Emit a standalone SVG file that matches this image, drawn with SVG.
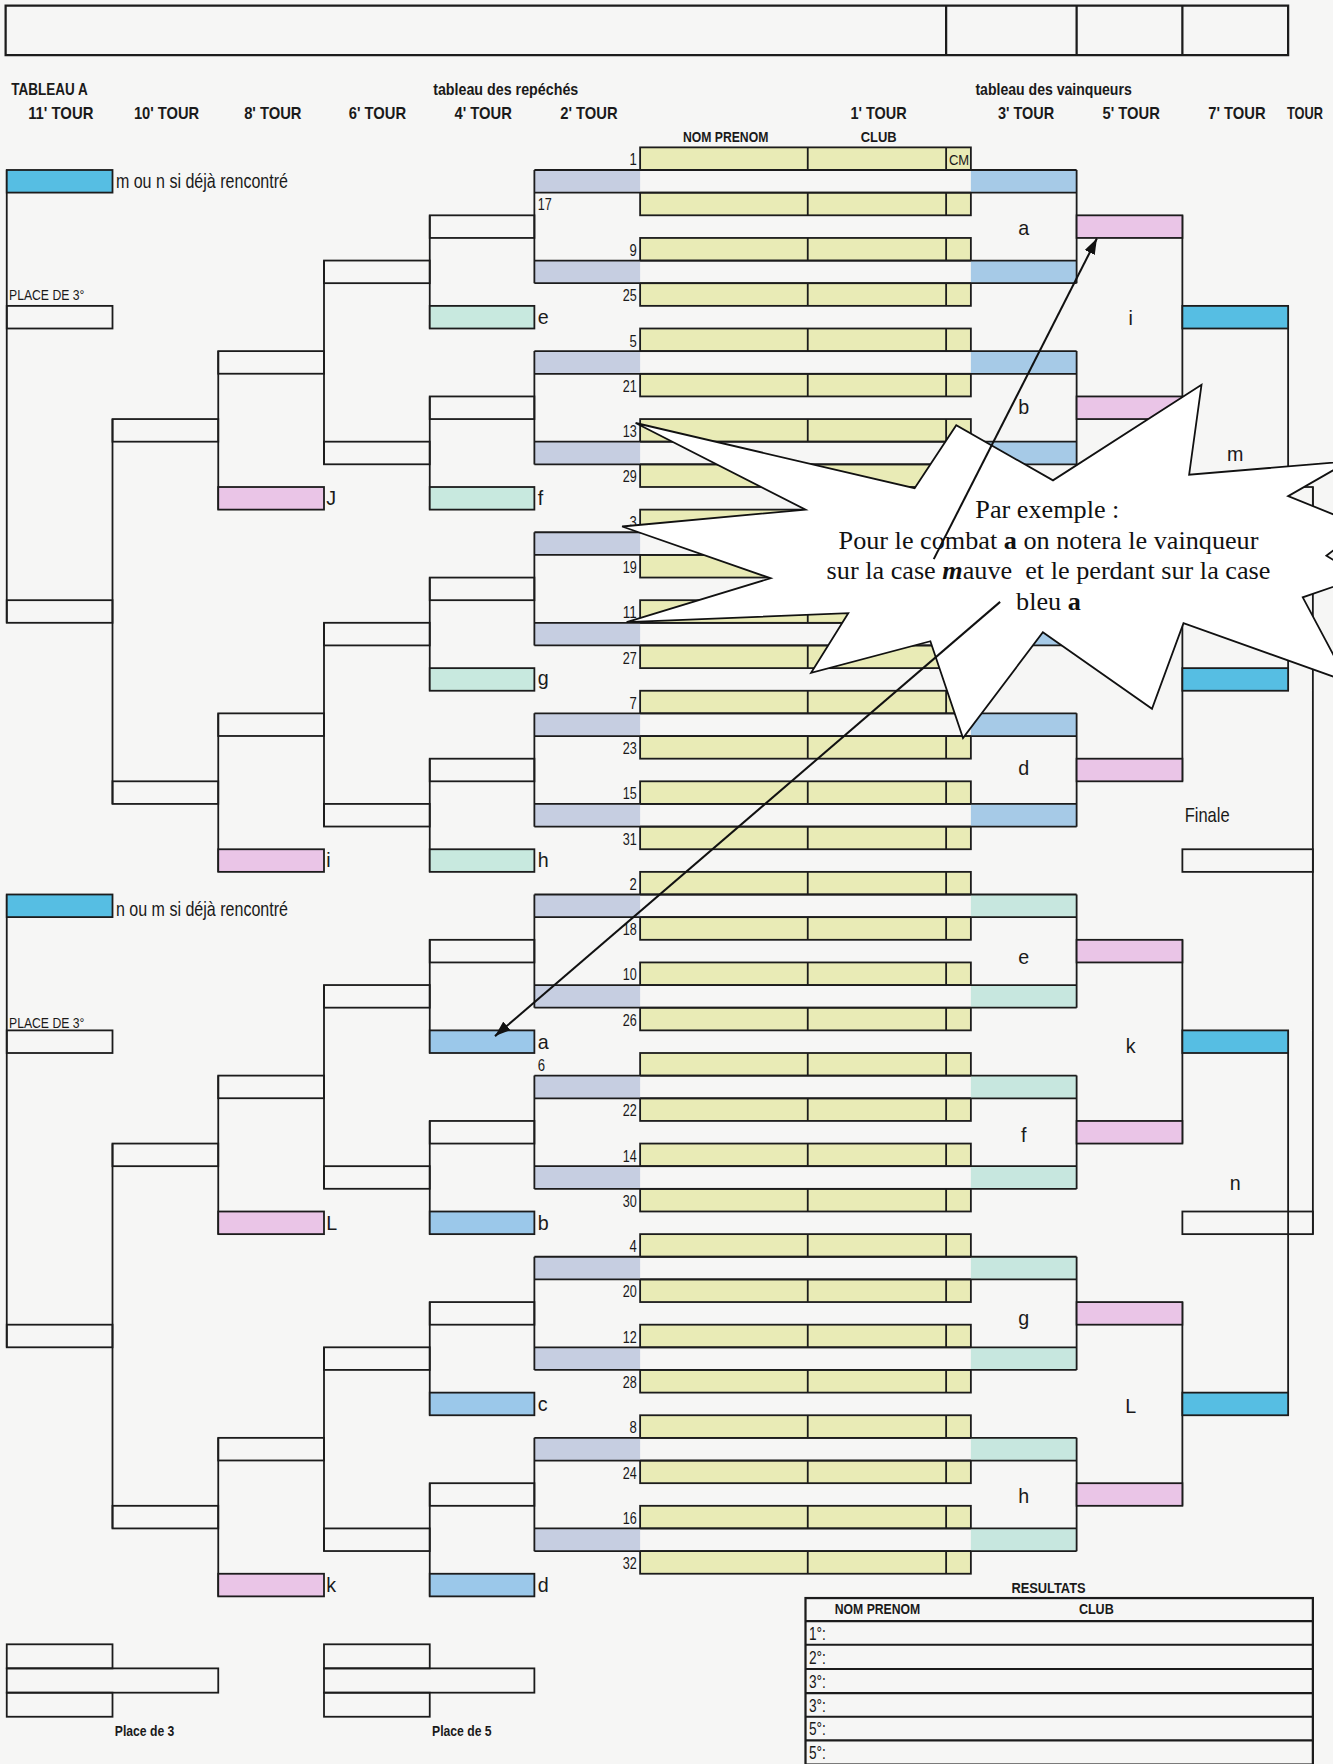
<svg xmlns="http://www.w3.org/2000/svg" xmlns:xlink="http://www.w3.org/1999/xlink" width="1333" height="1764" viewBox="0 0 1333 1764">
<defs>
<style>
.ln{fill:none;stroke:#1c1c1c;stroke-width:1.6}
.bx{fill:none;stroke:#1c1c1c;stroke-width:1.6}
.yl{fill:#e9ebb6;stroke:#1c1c1c;stroke-width:1.6}
.gr{fill:#c6cee1}
.b3{fill:#a6cae7}
.t3{fill:#c7e7df}
.pk{fill:#eac5e7;stroke:#1c1c1c;stroke-width:1.6}
.cy{fill:#56bee3;stroke:#1c1c1c;stroke-width:1.6}
.lb{fill:#9bc8ea;stroke:#1c1c1c;stroke-width:1.6}
.lt{fill:#c8e9df;stroke:#1c1c1c;stroke-width:1.6}
.sans{font-family:'Liberation Sans',Arial,sans-serif;fill:#1a1a1a}
.hd{font-weight:bold;font-size:15px}
.sh{font-weight:bold;font-size:13px}
.num{font-size:15px;text-anchor:end}
.numl{font-size:15px}
.let{font-size:17.5px}
.mid{text-anchor:middle}
.lab{font-size:17.5px}
.pl{font-size:13.5px}
.res{font-size:16px}
.star{font-family:'Liberation Serif','Times New Roman',serif;font-size:23.3px;fill:#111;text-anchor:middle}
</style>
<marker id="ah" viewBox="0 0 14 10" refX="14" refY="5" markerWidth="14" markerHeight="10" orient="auto" markerUnits="userSpaceOnUse"><path d="M0,0 L14,5 L0,10 z" fill="#111"/></marker>
<g id="pb">
<rect class="yl" x="569" y="0" width="294" height="20.125"/>
<rect class="yl" x="569" y="40.25" width="294" height="20.125"/>
<rect class="gr" x="475" y="20.125" width="94" height="20.125"/>
<rect class="b3" x="863" y="20.125" width="94" height="20.125"/>
<path class="ln" d="M475,20.125H957M475,40.25H957M718,0V20.125M841,0V20.125M718,40.25V60.375M841,40.25V60.375"/>
</g>
<g id="pt">
<rect class="yl" x="569" y="0" width="294" height="20.125"/>
<rect class="yl" x="569" y="40.25" width="294" height="20.125"/>
<rect class="gr" x="475" y="20.125" width="94" height="20.125"/>
<rect class="t3" x="863" y="20.125" width="94" height="20.125"/>
<path class="ln" d="M475,20.125H957M475,40.25H957M718,0V20.125M841,0V20.125M718,40.25V60.375M841,40.25V60.375"/>
</g>
</defs>
<rect x="0" y="0" width="1333" height="1764" fill="#f6f6f5"/>
<g transform="scale(1.125)">

<g id="header">
<rect class="bx" x="5" y="5" width="1140" height="44" style="stroke-width:2"/>
<path class="ln" d="M841,5V49M957,5V49M1051,5V49" style="stroke-width:2"/>
<text class="sans hd" x="10" y="84" textLength="68" lengthAdjust="spacingAndGlyphs">TABLEAU A</text>
<text class="sans hd" x="385" y="84" textLength="129" lengthAdjust="spacingAndGlyphs">tableau des repéchés</text>
<text class="sans hd" x="867" y="84" textLength="139" lengthAdjust="spacingAndGlyphs">tableau des vainqueurs</text>
<text class="sans hd" x="25" y="106" textLength="58" lengthAdjust="spacingAndGlyphs">11' TOUR</text>
<text class="sans hd" x="119" y="106" textLength="58" lengthAdjust="spacingAndGlyphs">10' TOUR</text>
<text class="sans hd" x="217" y="106" textLength="51" lengthAdjust="spacingAndGlyphs">8' TOUR</text>
<text class="sans hd" x="310" y="106" textLength="51" lengthAdjust="spacingAndGlyphs">6' TOUR</text>
<text class="sans hd" x="404" y="106" textLength="51" lengthAdjust="spacingAndGlyphs">4' TOUR</text>
<text class="sans hd" x="498" y="106" textLength="51" lengthAdjust="spacingAndGlyphs">2' TOUR</text>
<text class="sans hd" x="756" y="106" textLength="50" lengthAdjust="spacingAndGlyphs">1' TOUR</text>
<text class="sans hd" x="887" y="106" textLength="50" lengthAdjust="spacingAndGlyphs">3' TOUR</text>
<text class="sans hd" x="980" y="106" textLength="51" lengthAdjust="spacingAndGlyphs">5' TOUR</text>
<text class="sans hd" x="1074" y="106" textLength="51" lengthAdjust="spacingAndGlyphs">7' TOUR</text>
<text class="sans hd" x="1144" y="106" textLength="32" lengthAdjust="spacingAndGlyphs">TOUR</text>
<text class="sans sh" x="607" y="126" textLength="76" lengthAdjust="spacingAndGlyphs">NOM PRENOM</text>
<text class="sans sh" x="765" y="126" textLength="32" lengthAdjust="spacingAndGlyphs">CLUB</text>
</g>

<g id="first-round">
<g id="m1-17"><use xlink:href="#pb" href="#pb" y="131"/><text class="sans num" x="566" y="147" textLength="6.5" lengthAdjust="spacingAndGlyphs">1</text><text class="sans numl" x="478" y="187" textLength="12.5" lengthAdjust="spacingAndGlyphs">17</text><text class="sans" x="843.5" y="146.5" style="font-size:12.5px" textLength="18" lengthAdjust="spacingAndGlyphs">CM</text></g>
<g id="m9-25"><use xlink:href="#pb" href="#pb" y="211.5"/><text class="sans num" x="566" y="227.5" textLength="6.5" lengthAdjust="spacingAndGlyphs">9</text><text class="sans num" x="566" y="267.8" textLength="12.5" lengthAdjust="spacingAndGlyphs">25</text></g>
<g id="m5-21"><use xlink:href="#pb" href="#pb" y="292"/><text class="sans num" x="566" y="308" textLength="6.5" lengthAdjust="spacingAndGlyphs">5</text><text class="sans num" x="566" y="348.3" textLength="12.5" lengthAdjust="spacingAndGlyphs">21</text></g>
<g id="m13-29"><use xlink:href="#pb" href="#pb" y="372.5"/><text class="sans num" x="566" y="388.5" textLength="12.5" lengthAdjust="spacingAndGlyphs">13</text><text class="sans num" x="566" y="428.8" textLength="12.5" lengthAdjust="spacingAndGlyphs">29</text></g>
<g id="m3-19"><use xlink:href="#pb" href="#pb" y="453"/><text class="sans num" x="566" y="469" textLength="6.5" lengthAdjust="spacingAndGlyphs">3</text><text class="sans num" x="566" y="509.3" textLength="12.5" lengthAdjust="spacingAndGlyphs">19</text></g>
<g id="m11-27"><use xlink:href="#pb" href="#pb" y="533.5"/><text class="sans num" x="566" y="549.5" textLength="12.5" lengthAdjust="spacingAndGlyphs">11</text><text class="sans num" x="566" y="589.8" textLength="12.5" lengthAdjust="spacingAndGlyphs">27</text></g>
<g id="m7-23"><use xlink:href="#pb" href="#pb" y="614"/><text class="sans num" x="566" y="630" textLength="6.5" lengthAdjust="spacingAndGlyphs">7</text><text class="sans num" x="566" y="670.3" textLength="12.5" lengthAdjust="spacingAndGlyphs">23</text></g>
<g id="m15-31"><use xlink:href="#pb" href="#pb" y="694.5"/><text class="sans num" x="566" y="710.5" textLength="12.5" lengthAdjust="spacingAndGlyphs">15</text><text class="sans num" x="566" y="750.8" textLength="12.5" lengthAdjust="spacingAndGlyphs">31</text></g>
<g id="m2-18"><use xlink:href="#pt" href="#pt" y="775"/><text class="sans num" x="566" y="791" textLength="6.5" lengthAdjust="spacingAndGlyphs">2</text><text class="sans num" x="566" y="831.3" textLength="12.5" lengthAdjust="spacingAndGlyphs">18</text></g>
<g id="m10-26"><use xlink:href="#pt" href="#pt" y="855.5"/><text class="sans num" x="566" y="871.5" textLength="12.5" lengthAdjust="spacingAndGlyphs">10</text><text class="sans num" x="566" y="911.8" textLength="12.5" lengthAdjust="spacingAndGlyphs">26</text></g>
<g id="m6-22"><use xlink:href="#pt" href="#pt" y="936"/><text class="sans numl" x="478" y="952" textLength="6.5" lengthAdjust="spacingAndGlyphs">6</text><text class="sans num" x="566" y="992.3" textLength="12.5" lengthAdjust="spacingAndGlyphs">22</text></g>
<g id="m14-30"><use xlink:href="#pt" href="#pt" y="1016.5"/><text class="sans num" x="566" y="1032.5" textLength="12.5" lengthAdjust="spacingAndGlyphs">14</text><text class="sans num" x="566" y="1072.8" textLength="12.5" lengthAdjust="spacingAndGlyphs">30</text></g>
<g id="m4-20"><use xlink:href="#pt" href="#pt" y="1097"/><text class="sans num" x="566" y="1113" textLength="6.5" lengthAdjust="spacingAndGlyphs">4</text><text class="sans num" x="566" y="1153.3" textLength="12.5" lengthAdjust="spacingAndGlyphs">20</text></g>
<g id="m12-28"><use xlink:href="#pt" href="#pt" y="1177.5"/><text class="sans num" x="566" y="1193.5" textLength="12.5" lengthAdjust="spacingAndGlyphs">12</text><text class="sans num" x="566" y="1233.8" textLength="12.5" lengthAdjust="spacingAndGlyphs">28</text></g>
<g id="m8-24"><use xlink:href="#pt" href="#pt" y="1258"/><text class="sans num" x="566" y="1274" textLength="6.5" lengthAdjust="spacingAndGlyphs">8</text><text class="sans num" x="566" y="1314.3" textLength="12.5" lengthAdjust="spacingAndGlyphs">24</text></g>
<g id="m16-32"><use xlink:href="#pt" href="#pt" y="1338.5"/><text class="sans num" x="566" y="1354.5" textLength="12.5" lengthAdjust="spacingAndGlyphs">16</text><text class="sans num" x="566" y="1394.8" textLength="12.5" lengthAdjust="spacingAndGlyphs">32</text></g>
</g>

<g id="connectors">
<path class="ln" d="M475,151.1V251.8M475,312.1V412.8M475,473.1V573.8M475,634.1V734.8M475,795.1V895.8M475,956.1V1056.8M475,1117.1V1217.8M475,1278.1V1378.8
M957,151.1V251.8M957,312.1V412.8M957,473.1V573.8M957,634.1V734.8M957,795.1V895.8M957,956.1V1056.8M957,1117.1V1217.8M957,1278.1V1378.8
M382,191.4V292M382,352.4V453M382,513.4V614M382,674.4V775M382,835.4V936M382,996.4V1097M382,1157.4V1258M382,1318.4V1419
M288,231.6V412.8M288,553.6V734.8M288,875.6V1056.8M288,1197.6V1378.8
M194,312.1V453M194,634.1V775M194,956.1V1097M194,1278.1V1419
M100,372.5V714.6M100,1016.5V1358.6
M6,151.1V553.6M6,795.1V1197.6
M1051,191.4V372.5M1051,513.4V694.5M1051,835.4V1016.5M1051,1157.4V1338.5
M1145,271.9V614M1145,915.9V1258
M1167,432.9V1097"/>
</g>

<g id="repechage">
<g id="r4-white">
<rect class="bx" x="382" y="191.4" width="93" height="20.1"/>
<rect class="bx" x="382" y="352.4" width="93" height="20.1"/>
<rect class="bx" x="382" y="513.4" width="93" height="20.1"/>
<rect class="bx" x="382" y="674.4" width="93" height="20.1"/>
<rect class="bx" x="382" y="835.4" width="93" height="20.1"/>
<rect class="bx" x="382" y="996.4" width="93" height="20.1"/>
<rect class="bx" x="382" y="1157.4" width="93" height="20.1"/>
<rect class="bx" x="382" y="1318.4" width="93" height="20.1"/>
</g>
<g id="r4-e"><rect class="lt" x="382" y="271.9" width="93" height="20.1"/><text class="sans let" x="478" y="288">e</text></g>
<g id="r4-f"><rect class="lt" x="382" y="432.9" width="93" height="20.1"/><text class="sans let" x="478" y="449">f</text></g>
<g id="r4-g"><rect class="lt" x="382" y="593.9" width="93" height="20.1"/><text class="sans let" x="478" y="609">g</text></g>
<g id="r4-h"><rect class="lt" x="382" y="754.9" width="93" height="20.1"/><text class="sans let" x="478" y="771">h</text></g>
<g id="r4-a"><rect class="lb" x="382" y="915.9" width="93" height="20.1"/><text class="sans let" x="478" y="932">a</text></g>
<g id="r4-b"><rect class="lb" x="382" y="1076.9" width="93" height="20.1"/><text class="sans let" x="478" y="1093">b</text></g>
<g id="r4-c"><rect class="lb" x="382" y="1237.9" width="93" height="20.1"/><text class="sans let" x="478" y="1254">c</text></g>
<g id="r4-d"><rect class="lb" x="382" y="1398.9" width="93" height="20.1"/><text class="sans let" x="478" y="1415">d</text></g>
<g id="r6">
<rect class="bx" x="288" y="231.6" width="94" height="20.1"/>
<rect class="bx" x="288" y="392.6" width="94" height="20.1"/>
<rect class="bx" x="288" y="553.6" width="94" height="20.1"/>
<rect class="bx" x="288" y="714.6" width="94" height="20.1"/>
<rect class="bx" x="288" y="875.6" width="94" height="20.1"/>
<rect class="bx" x="288" y="1036.6" width="94" height="20.1"/>
<rect class="bx" x="288" y="1197.6" width="94" height="20.1"/>
<rect class="bx" x="288" y="1358.6" width="94" height="20.1"/>
</g>
<g id="r8">
<rect class="bx" x="194" y="312.1" width="94" height="20.1"/>
<rect class="bx" x="194" y="634.1" width="94" height="20.1"/>
<rect class="bx" x="194" y="956.1" width="94" height="20.1"/>
<rect class="bx" x="194" y="1278.1" width="94" height="20.1"/>
</g>
<g id="r8-J"><rect class="pk" x="194" y="432.9" width="94" height="20.1"/><text class="sans let" x="290" y="449">J</text></g>
<g id="r8-i"><rect class="pk" x="194" y="754.9" width="94" height="20.1"/><text class="sans let" x="290" y="771">i</text></g>
<g id="r8-L"><rect class="pk" x="194" y="1076.9" width="94" height="20.1"/><text class="sans let" x="290" y="1093">L</text></g>
<g id="r8-k"><rect class="pk" x="194" y="1398.9" width="94" height="20.1"/><text class="sans let" x="290" y="1415">k</text></g>
<g id="r10">
<rect class="bx" x="100" y="372.5" width="94" height="20.1"/>
<rect class="bx" x="100" y="694.5" width="94" height="20.1"/>
<rect class="bx" x="100" y="1016.5" width="94" height="20.1"/>
<rect class="bx" x="100" y="1338.5" width="94" height="20.1"/>
</g>
<g id="r11-top">
<rect class="cy" x="6" y="151.1" width="94" height="20.1"/>
<text class="sans lab" x="103" y="167" textLength="153" lengthAdjust="spacingAndGlyphs">m ou n si déjà rencontré</text>
<text class="sans pl" x="8" y="267" textLength="67" lengthAdjust="spacingAndGlyphs">PLACE DE 3°</text>
<rect class="bx" x="6" y="271.9" width="94" height="20.1"/>
<rect class="bx" x="6" y="533.5" width="94" height="20.1"/>
</g>
<g id="r11-bottom">
<rect class="cy" x="6" y="795.1" width="94" height="20.1"/>
<text class="sans lab" x="103" y="814" textLength="153" lengthAdjust="spacingAndGlyphs">n ou m si déjà rencontré</text>
<text class="sans pl" x="8" y="914" textLength="67" lengthAdjust="spacingAndGlyphs">PLACE DE 3°</text>
<rect class="bx" x="6" y="915.9" width="94" height="20.1"/>
<rect class="bx" x="6" y="1177.5" width="94" height="20.1"/>
</g>
</g>

<g id="winners">
<text class="sans let mid" x="910" y="209">a</text>
<text class="sans let mid" x="910" y="368">b</text>
<text class="sans let mid" x="910" y="689">d</text>
<text class="sans let mid" x="910" y="857">e</text>
<text class="sans let mid" x="910" y="1015">f</text>
<text class="sans let mid" x="910" y="1178">g</text>
<text class="sans let mid" x="910" y="1336">h</text>
<g id="w5">
<rect class="pk" x="957" y="191.4" width="94" height="20.1"/>
<rect class="pk" x="957" y="352.4" width="94" height="20.1"/>
<rect class="pk" x="957" y="513.4" width="94" height="20.1"/>
<rect class="pk" x="957" y="674.4" width="94" height="20.1"/>
<rect class="pk" x="957" y="835.4" width="94" height="20.1"/>
<rect class="pk" x="957" y="996.4" width="94" height="20.1"/>
<rect class="pk" x="957" y="1157.4" width="94" height="20.1"/>
<rect class="pk" x="957" y="1318.4" width="94" height="20.1"/>
</g>
<text class="sans let mid" x="1005" y="289">i</text>
<text class="sans let mid" x="1005" y="936">k</text>
<text class="sans let mid" x="1005" y="1256">L</text>
<g id="w7">
<rect class="cy" x="1051" y="271.9" width="94" height="20.1"/>
<rect class="cy" x="1051" y="593.9" width="94" height="20.1"/>
<rect class="cy" x="1051" y="915.9" width="94" height="20.1"/>
<rect class="cy" x="1051" y="1237.9" width="94" height="20.1"/>
</g>
<text class="sans let mid" x="1098" y="410">m</text>
<text class="sans let mid" x="1098" y="1058">n</text>
<g id="final">
<rect class="bx" x="1051" y="432.9" width="116" height="20.1"/>
<rect class="bx" x="1051" y="754.9" width="116" height="20.1"/>
<rect class="bx" x="1051" y="1076.9" width="116" height="20.1"/>
<text class="sans lab" x="1053" y="731" textLength="40" lengthAdjust="spacingAndGlyphs">Finale</text>
</g>
</g>

<g id="places">
<rect class="bx" x="6" y="1461.6" width="94" height="21.4"/>
<rect class="bx" x="6" y="1483" width="188" height="21.6"/>
<rect class="bx" x="6" y="1504.6" width="94" height="21.4"/>
<text class="sans sh" x="102" y="1543" textLength="53" lengthAdjust="spacingAndGlyphs">Place de 3</text>
<rect class="bx" x="288" y="1461.6" width="94" height="21.4"/>
<rect class="bx" x="288" y="1483" width="187" height="21.6"/>
<rect class="bx" x="288" y="1504.6" width="94" height="21.4"/>
<text class="sans sh" x="384" y="1543" textLength="53" lengthAdjust="spacingAndGlyphs">Place de 5</text>
</g>

<g id="results">
<text class="sans sh" x="899" y="1416" textLength="66" lengthAdjust="spacingAndGlyphs">RESULTATS</text>
<rect class="bx" x="716" y="1420.5" width="451" height="148" style="stroke-width:2"/>
<path class="ln" d="M716,1441H1167M716,1462H1167M716,1483.5H1167M716,1505H1167M716,1526H1167M716,1547H1167" style="stroke-width:1.8"/>
<text class="sans sh" x="742" y="1435" textLength="76" lengthAdjust="spacingAndGlyphs">NOM PRENOM</text>
<text class="sans sh" x="959" y="1435" textLength="31" lengthAdjust="spacingAndGlyphs">CLUB</text>
<text class="sans res" x="719" y="1457.5" textLength="15" lengthAdjust="spacingAndGlyphs">1°:</text>
<text class="sans res" x="719" y="1479" textLength="15" lengthAdjust="spacingAndGlyphs">2°:</text>
<text class="sans res" x="719" y="1500" textLength="15" lengthAdjust="spacingAndGlyphs">3°:</text>
<text class="sans res" x="719" y="1521.5" textLength="15" lengthAdjust="spacingAndGlyphs">3°:</text>
<text class="sans res" x="719" y="1542.5" textLength="15" lengthAdjust="spacingAndGlyphs">5°:</text>
<text class="sans res" x="719" y="1563.5" textLength="15" lengthAdjust="spacingAndGlyphs">5°:</text>
</g>

<g id="callout">
<polygon points="565,376 813,434 850,378 936,427 1068,342 1057,422 1199,410 1145,441 1212,468 1179,494 1210,513 1158,531 1198,606 1052,554 1024,630 927,562 856,656 827,570 721,598 754,545 557,553 685,514 553,468 716,453" fill="#ffffff" stroke="#111" stroke-width="1.6" stroke-linejoin="miter"/>
<line x1="830" y1="497" x2="975" y2="212" stroke="#111" stroke-width="1.8" marker-end="url(#ah)"/>
<line x1="889" y1="535" x2="440" y2="921" stroke="#111" stroke-width="1.8" marker-end="url(#ah)"/>
<text class="star" x="931" y="460">Par exemple :</text>
<text class="star" x="932" y="488">Pour le combat <tspan font-weight="bold">a</tspan> on notera le vainqueur</text>
<text class="star" x="932" y="515" xml:space="preserve">sur la case <tspan font-weight="bold" font-style="italic">m</tspan>auve  et le perdant sur la case</text>
<text class="star" x="932" y="542">bleu <tspan font-weight="bold">a</tspan></text>
</g>

</g>
</svg>
